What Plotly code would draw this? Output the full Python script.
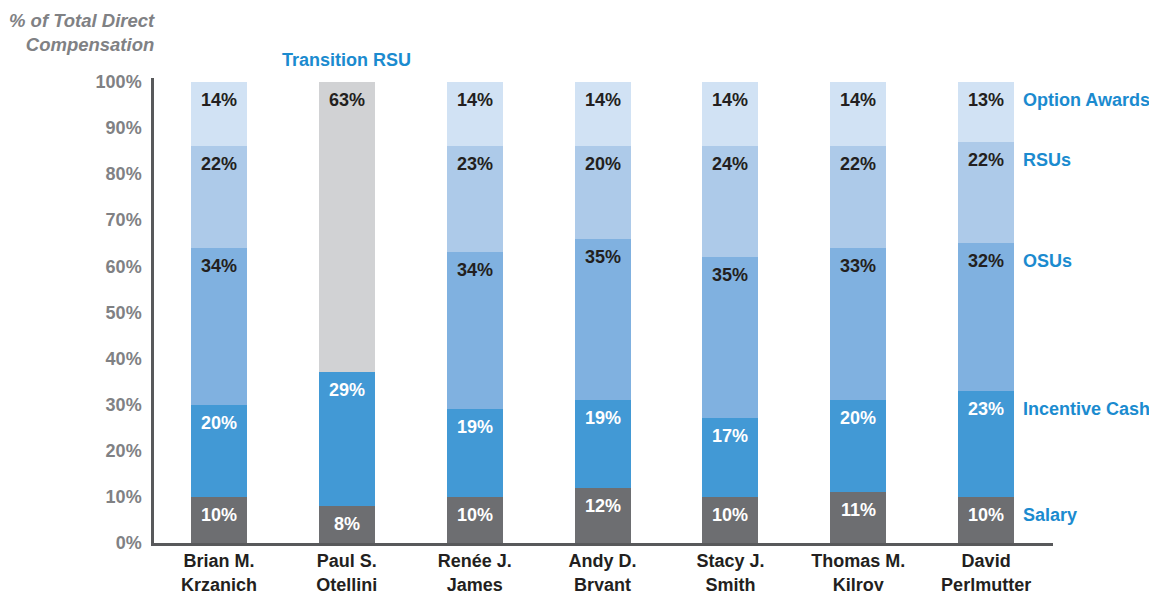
import plotly.graph_objects as go

executives = ["Brian M.<br>Krzanich", "Paul S.<br>Otellini", "Renée J.<br>James", "Andy D.<br>Bryant",
              "Stacy J.<br>Smith", "Thomas M.<br>Kilroy", "David<br>Perlmutter"]

salary = [10, 8, 10, 12, 10, 11, 10]
incentive_cash = [20, 29, 19, 19, 17, 20, 23]
osus = [34, None, 34, 35, 35, 33, 32]
rsus = [22, None, 23, 20, 24, 22, 22]
option_awards = [14, None, 14, 14, 14, 14, 13]
transition_rsu = [None, 63, None, None, None, None, None]

y_ticks = [0, 10, 20, 30, 40, 50, 60, 70, 80, 90, 100]
y_tick_text = [f"{v}%" for v in y_ticks]

series = [
    ("Salary", salary, "#6d6e71", "white"),
    ("Incentive Cash", incentive_cash, "#4299d5", "white"),
    ("OSUs", osus, "#80b1e0", "#231f20"),
    ("RSUs", rsus, "#adcae9", "#231f20"),
    ("Option Awards", option_awards, "#d1e2f4", "#231f20"),
    ("Transition RSU", transition_rsu, "#d1d2d4", "#231f20"),
]

FONT = "Liberation Sans, Arial, sans-serif"
BLUE = "#1b8bcf"

fig = go.Figure()
annotations = []
cum = [0.0] * len(executives)
for name, vals, color, tcolor in series:
    fig.add_trace(go.Bar(x=list(range(len(executives))), y=vals, name=name,
                         marker=dict(color=color, line=dict(width=0)), showlegend=False))
    for i, v in enumerate(vals):
        if v is None:
            continue
        cum[i] += v
        annotations.append(dict(x=i, y=cum[i], xref="x", yref="y", text=f"<b>{v}%</b>",
                                showarrow=False, yshift=-18, yanchor="middle",
                                font=dict(family=FONT, size=18, color=tcolor)))
        if i == len(executives) - 1:
            annotations.append(dict(x=i, y=cum[i], xref="x", yref="y", text=f"<b>{name}</b>",
                                    showarrow=False, yshift=-18, xshift=35, xanchor="left",
                                    yanchor="middle", font=dict(family=FONT, size=18, color=BLUE)))
        if name == "Transition RSU":
            annotations.append(dict(x=i, y=cum[i], xref="x", yref="y", text=f"<b>{name}</b>",
                                    showarrow=False, yshift=22, yanchor="middle",
                                    font=dict(family=FONT, size=18, color=BLUE)))

fig.update_layout(
    width=1157, height=591,
    margin=dict(l=146, r=112, t=70, b=56, autoexpand=False),
    paper_bgcolor="white", plot_bgcolor="white",
    barmode="stack", bargap=0.5625,
    font=dict(family=FONT),
    annotations=annotations,
    xaxis=dict(range=[-0.508, 6.523], tickmode="array", tickvals=list(range(len(executives))),
               ticktext=[f"<b>{e}</b>" for e in executives], showgrid=False, zeroline=False,
               showline=True, linecolor="#58595b", linewidth=2.5, ticks="", automargin=False,
               ticklabelstandoff=0, tickfont=dict(family=FONT, size=18, color="#231f20")),
    yaxis=dict(range=[0, 100.8], tickmode="array", tickvals=y_ticks,
               ticktext=[f"<b>{t}</b>" for t in y_tick_text], showgrid=False, zeroline=False,
               showline=True, linecolor="#58595b", linewidth=2.5, ticks="", automargin=False,
               ticklabelstandoff=6, tickfont=dict(family=FONT, size=18, color="#808184")),
)

fig.add_annotation(xref="paper", yref="paper", x=0, xshift=3, y=1, yshift=70,
                   xanchor="right", yanchor="top", align="right", showarrow=False,
                   text="<b><i>% of Total Direct<br>Compensation</i></b>",
                   font=dict(family=FONT, size=18.5, color="#808184"))

fig.write_html("out.html")
